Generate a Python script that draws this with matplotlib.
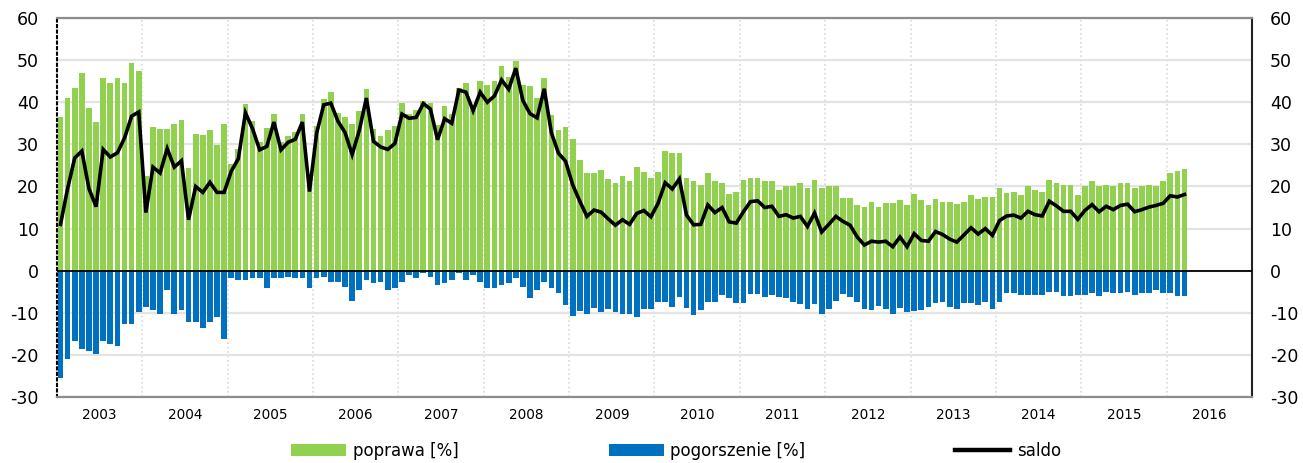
#! /usr/bin/env python3

import numpy as np
import matplotlib
matplotlib.use("Agg")
import matplotlib.pyplot as plt

plt.rcParams['font.family'] = ['DejaVu Sans']
plt.rcParams['axes.unicode_minus'] = False

# monthly survey results, Jan 2003 - Mar 2016
years = list(range(2003, 2017))

poprawa = [
    36.5, 40.9, 43.4, 47.0, 38.6, 35.3, 45.8, 44.5, 45.8, 44.5, 49.4, 47.5,  # 2003
    22.4, 34.1, 33.7, 33.7, 34.9, 35.7, 24.3, 32.4, 32.2, 33.3, 29.8, 34.9,  # 2004
    25.4, 28.8, 39.7, 35.5, 30.6, 33.8, 37.1, 30.6, 31.9, 33.0, 37.1, 23.0,  # 2005
    34.4, 40.8, 42.4, 37.5, 36.4, 34.8, 37.9, 43.2, 33.7, 32.0, 33.4, 34.4,  # 2006
    39.8, 37.2, 38.2, 40.3, 39.8, 34.5, 39.1, 37.2, 43.5, 44.6, 39.0, 45.0,  # 2007
    44.2, 45.0, 48.7, 46.1, 49.9, 44.2, 43.8, 40.9, 45.8, 37.0, 33.3, 34.1,  # 2008
    31.3, 26.4, 23.2, 23.2, 24.0, 21.7, 20.9, 22.4, 21.3, 24.7, 23.5, 22.0,  # 2009
    23.5, 28.4, 28.0, 28.0, 22.0, 21.2, 20.4, 23.1, 21.2, 20.8, 18.3, 18.8,  # 2010
    21.6, 22.0, 22.0, 21.2, 21.2, 19.2, 20.0, 20.0, 20.8, 19.6, 21.6, 19.6,  # 2011
    20.1, 20.0, 17.2, 17.2, 15.6, 15.2, 16.4, 15.2, 16.0, 16.0, 16.7, 15.6,  # 2012
    18.3, 16.7, 15.5, 17.1, 16.3, 16.3, 15.9, 16.3, 17.9, 17.1, 17.5, 17.5,  # 2013
    19.6, 18.4, 18.8, 18.0, 20.0, 19.2, 18.8, 21.5, 20.8, 20.4, 20.4, 18.0,  # 2014
    20.0, 21.2, 20.0, 20.4, 20.0, 20.8, 20.8, 19.6, 20.0, 20.4, 20.0, 21.2,  # 2015
    23.3, 23.7, 24.1,                                                        # 2016
]

pogorszenie = [
    -25.5, -21.0, -16.6, -18.7, -19.1, -19.8, -16.6, -17.5, -17.9, -12.7, -12.7, -9.8,
    -8.6, -9.4, -10.2, -4.5, -10.2, -9.4, -12.2, -12.2, -13.5, -12.2, -11.0, -16.2,
    -1.8, -2.2, -2.2, -1.8, -1.8, -4.2, -1.8, -1.8, -1.4, -1.8, -1.8, -4.2,
    -1.8, -1.4, -2.6, -2.6, -3.8, -7.2, -4.6, -2.2, -3.0, -2.6, -4.6, -4.2,
    -2.6, -1.0, -1.8, -0.6, -1.4, -3.4, -3.0, -2.2, -0.6, -2.2, -1.0, -2.6,
    -4.2, -4.2, -3.4, -3.0, -1.8, -3.8, -6.5, -4.6, -2.6, -4.2, -5.4, -8.1,
    -10.7, -9.6, -10.2, -8.8, -9.9, -9.2, -9.9, -10.2, -10.2, -11.0, -9.0, -9.0,
    -7.5, -7.5, -8.6, -6.2, -8.8, -10.6, -9.4, -7.5, -7.5, -5.7, -6.5, -7.6,
    -7.6, -5.5, -5.5, -6.2, -5.8, -6.3, -6.6, -7.5, -7.8, -9.0, -7.8, -10.2,
    -9.1, -7.1, -5.5, -6.3, -7.5, -9.0, -9.4, -8.4, -9.0, -10.2, -8.8, -9.8,
    -9.6, -9.4, -8.7, -7.7, -7.5, -8.7, -9.1, -7.7, -7.7, -8.1, -7.5, -9.1,
    -7.5, -5.4, -5.4, -5.7, -5.7, -5.7, -5.7, -5.0, -5.0, -6.1, -6.1, -5.7,
    -5.7, -5.4, -6.1, -5.0, -5.4, -5.4, -5.0, -5.7, -5.4, -5.4, -4.6, -5.4,
    -5.4, -6.1, -6.1,
]

saldo = [
    11.0, 19.5, 26.8, 28.4, 19.5, 15.2, 28.8, 27.0, 28.0, 31.5, 36.7, 37.7,
    13.8, 24.6, 23.2, 29.0, 24.6, 26.1, 12.1, 20.0, 18.6, 21.0, 18.6, 18.6,
    23.6, 26.6, 37.5, 33.7, 28.7, 29.5, 35.3, 28.7, 30.5, 31.2, 35.3, 18.8,
    32.6, 39.4, 39.8, 35.5, 32.8, 27.6, 33.3, 41.0, 30.7, 29.4, 28.8, 30.2,
    37.2, 36.2, 36.4, 39.7, 38.4, 31.1, 36.1, 35.0, 42.9, 42.4, 38.0, 42.4,
    40.0, 41.5, 45.3, 43.1, 48.1, 40.4, 37.3, 36.3, 43.2, 32.8, 27.9, 26.0,
    20.4, 16.5, 12.9, 14.4, 13.9, 12.3, 10.8, 12.1, 11.0, 13.6, 14.3, 12.8,
    16.0, 20.9, 19.4, 21.8, 13.2, 10.9, 11.0, 15.6, 13.8, 15.0, 11.6, 11.3,
    14.0, 16.4, 16.6, 15.0, 15.3, 12.9, 13.3, 12.5, 12.9, 10.5, 13.7, 9.2,
    11.0, 12.9, 11.7, 10.8, 8.0, 6.1, 7.0, 6.8, 7.0, 5.7, 8.0, 5.7,
    8.8, 7.2, 7.0, 9.3, 8.6, 7.5, 6.8, 8.5, 10.2, 8.7, 10.0, 8.4,
    11.9, 13.0, 13.2, 12.5, 14.1, 13.3, 13.0, 16.5, 15.4, 14.1, 14.1, 12.2,
    14.3, 15.7, 14.0, 15.3, 14.5, 15.5, 15.8, 14.0, 14.5, 15.1, 15.5, 16.0,
    17.8, 17.5, 18.1,
]

# one slot per month, bars sit in the middle of their month
x = np.arange(len(poprawa)) + 0.5

fig = plt.figure(figsize=(13.03, 4.63), dpi=100)
ax = fig.add_axes([0.0437, 0.1425, 0.9172, 0.8185])

b1 = ax.bar(x, poprawa, width=0.8, color='#92D050', zorder=2)
b2 = ax.bar(x, pogorszenie, width=0.8, color='#0070C0', zorder=2)
l1, = ax.plot(x, saldo, color='black', lw=2.6, zorder=4, solid_joinstyle='miter')

ax.axhline(0, color='black', lw=1.3, zorder=3)

ax.set_xlim(0, 12 * len(years))
ax.set_ylim(-30, 60)
ax.set_yticks(range(-30, 61, 10))

# year boundaries as dotted gridlines, year names centred in between
ax.set_xticks([12 * i for i in range(1, len(years))])
ax.set_xticks([12 * i + 6 for i in range(len(years))], minor=True)
ax.set_xticklabels([str(y) for y in years], minor=True, fontsize=9.8)
ax.tick_params(axis='x', which='major', length=0, labelbottom=False)
ax.tick_params(axis='x', which='minor', length=0, pad=8)
ax.grid(axis='x', which='major', color='#d9d9d9', ls=':', lw=1.2, zorder=0)
ax.grid(axis='y', color='#e3e3e3', ls='-', lw=1.6, zorder=0)

ax.tick_params(axis='y', length=0, labelsize=12.5, pad=13,
               labelleft=True, labelright=True)

for side in ['top', 'bottom']:
    ax.spines[side].set_color('#8c8c8c')
    ax.spines[side].set_linewidth(1.6)
ax.spines['left'].set_linestyle(':')
ax.spines['left'].set_color('black')
ax.spines['left'].set_linewidth(1.5)
ax.spines['right'].set_color('#222222')
ax.spines['right'].set_linewidth(1.5)

leg = fig.legend([b1, b2, l1], ['poprawa [%]', 'pogorszenie [%]', 'saldo'],
                 loc='center', bbox_to_anchor=(0.519, 0.026), ncol=3, frameon=False,
                 fontsize=12, handlelength=3.3, handleheight=0.7, columnspacing=9.0,
                 handletextpad=0.4, borderpad=0.2)
for line in leg.get_lines():
    line.set_linewidth(3.2)

fig.savefig("out.png", dpi=100)
